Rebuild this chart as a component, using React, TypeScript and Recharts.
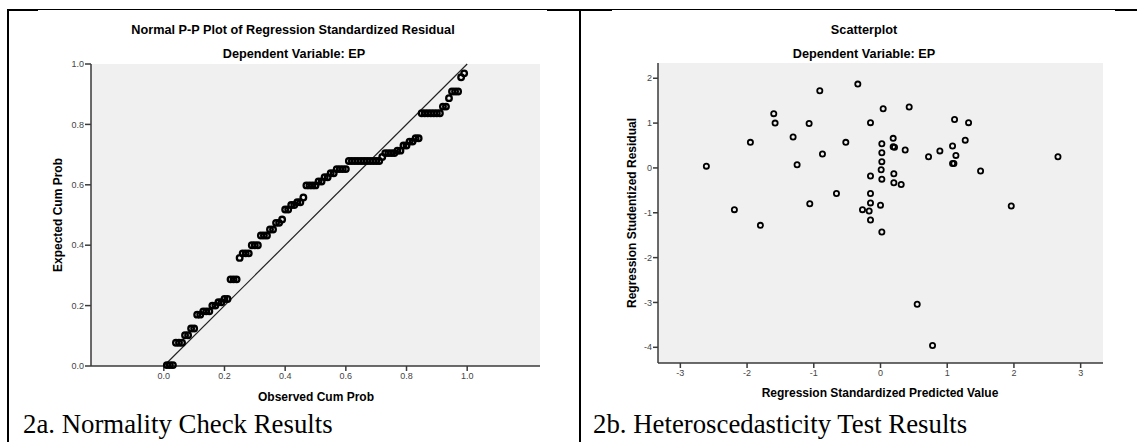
import React from 'react';
import { ScatterChart, Scatter, XAxis, YAxis, CartesianGrid, ReferenceLine } from 'recharts';

// P-P plot: observed cumulative probability of each case, and its expected value
const ppObserved = [
  0.01, 0.02, 0.03, 0.04, 0.05, 0.06, 0.07, 0.08, 0.09, 0.1,
  0.11, 0.12, 0.13, 0.14, 0.15, 0.16, 0.17, 0.18, 0.19, 0.2,
  0.21, 0.22, 0.23, 0.24, 0.25, 0.26, 0.27, 0.28, 0.29, 0.3,
  0.31, 0.32, 0.33, 0.34, 0.35, 0.36, 0.37, 0.38, 0.39, 0.4,
  0.41, 0.42, 0.43, 0.44, 0.45, 0.46, 0.47, 0.48, 0.49, 0.5,
  0.51, 0.52, 0.53, 0.54, 0.55, 0.56, 0.57, 0.58, 0.59, 0.6,
  0.61, 0.62, 0.63, 0.64, 0.65, 0.66, 0.67, 0.68, 0.69, 0.7,
  0.71, 0.72, 0.73, 0.74, 0.75, 0.76, 0.77, 0.78, 0.79, 0.8,
  0.81, 0.82, 0.83, 0.84, 0.85, 0.86, 0.87, 0.88, 0.89, 0.9,
  0.91, 0.92, 0.93, 0.94, 0.95, 0.96, 0.97, 0.98, 0.99,
];
const ppExpected = [
  0.003, 0.003, 0.003, 0.077, 0.077, 0.077, 0.102, 0.102, 0.124, 0.124,
  0.17, 0.17, 0.181, 0.181, 0.181, 0.2, 0.2, 0.211, 0.211, 0.222,
  0.222, 0.287, 0.287, 0.287, 0.358, 0.373, 0.373, 0.373, 0.4, 0.4,
  0.4, 0.432, 0.432, 0.432, 0.452, 0.452, 0.474, 0.474, 0.485, 0.518,
  0.518, 0.533, 0.533, 0.542, 0.542, 0.558, 0.598, 0.598, 0.598, 0.598,
  0.611, 0.611, 0.625, 0.625, 0.638, 0.638, 0.652, 0.652, 0.652, 0.652,
  0.679, 0.679, 0.679, 0.679, 0.679, 0.679, 0.679, 0.679, 0.679, 0.679,
  0.679, 0.692, 0.705, 0.705, 0.705, 0.705, 0.713, 0.713, 0.73, 0.73,
  0.743, 0.743, 0.754, 0.754, 0.837, 0.837, 0.837, 0.837, 0.837, 0.837,
  0.837, 0.859, 0.859, 0.887, 0.909, 0.909, 0.909, 0.956, 0.969,
];
const ppTicks = [0, 0.2, 0.4, 0.6, 0.8, 1];

// scatterplot: standardized predicted value vs studentized residual
const predictedValue = [
  -2.61, -2.19, -1.95, -1.8, -1.6, -1.58, -1.31, -1.25, -1.07, -1.06,
  -0.91, -0.87, -0.66, -0.52, -0.34, -0.27, -0.17, -0.15, -0.15, -0.15,
  -0.15, -0.15, 0.0, 0.01, 0.02, 0.02, 0.02, 0.02, 0.02, 0.04,
  0.19, 0.19, 0.21, 0.2, 0.2, 0.31, 0.37, 0.43, 0.55, 0.72,
  0.78, 0.89, 1.08, 1.08, 1.1, 1.11, 1.13, 1.27, 1.32, 1.5,
  1.96, 2.66,
];
const studentizedResidual = [
  0.04, -0.93, 0.57, -1.28, 1.21, 1.0, 0.69, 0.07, 0.99, -0.8,
  1.72, 0.31, -0.57, 0.57, 1.87, -0.93, -0.96, 1.01, -0.18, -0.57,
  -0.78, -1.16, -0.83, -0.04, 0.14, 0.34, 0.54, -0.25, -1.43, 1.32,
  0.66, 0.47, 0.46, -0.13, -0.33, -0.37, 0.4, 1.36, -3.04, 0.25,
  -3.96, 0.38, 0.49, 0.1, 0.1, 1.08, 0.28, 0.62, 1.01, -0.07,
  -0.85, 0.25,
];
const xTicks = [-3, -2, -1, 0, 1, 2, 3];
const yTicks = [-4, -3, -2, -1, 0, 1, 2];

const ppData = ppObserved.map((x, i) => ({ x, y: ppExpected[i] }));
const scatterData = predictedValue.map((x, i) => ({ x, y: studentizedResidual[i] }));

const sans = '"Liberation Sans", Arial, sans-serif';
const tickStyle = { fontSize: 9, fill: '#444', fontFamily: sans };
const axisDark = { stroke: '#3a3a3a', strokeWidth: 1.5 };
const frameGrey = { stroke: '#8a8a8a', strokeWidth: 1.5 };

const ring = (r: number, w: number) => (props: any) => (
  <circle cx={props.cx} cy={props.cy} r={r} fill="none" stroke="#000" strokeWidth={w} />
);

function Label({ x, y, size, bold = true, serif = false, rotate = false, left = false, children }: any) {
  const style: React.CSSProperties = {
    position: 'absolute',
    whiteSpace: 'nowrap',
    lineHeight: 1,
    fontSize: size,
    fontWeight: bold ? 'bold' : 'normal',
    fontFamily: serif ? '"Liberation Serif", "Times New Roman", serif' : sans,
    color: '#000',
    left: x,
    top: y,
    transform: rotate ? 'translate(-50%, -50%) rotate(-90deg)' : left ? 'none' : 'translateX(-50%)',
  };
  return <div style={style}>{children}</div>;
}

function Line({ x, y, w, h }: any) {
  return <div style={{ position: 'absolute', left: x, top: y, width: w, height: h, background: '#000' }} />;
}

function PPPlot() {
  return (
    <ScatterChart width={570} height={420} margin={{ top: 64, right: 30, bottom: 34, left: 61 }}>
      <CartesianGrid fill="#f0f0f0" horizontal={false} vertical={false} />
      <XAxis xAxisId="top" orientation="top" height={0} tick={false} tickLine={false} axisLine={frameGrey} />
      <YAxis yAxisId="right" orientation="right" width={0} tick={false} tickLine={false} axisLine={frameGrey} />
      <XAxis
        dataKey="x"
        type="number"
        domain={[-0.24, 1.24]}
        ticks={ppTicks}
        interval={0}
        allowDataOverflow
        height={20}
        tickSize={5}
        tickMargin={2}
        tick={tickStyle}
        tickFormatter={(v: number) => v.toFixed(1)}
        axisLine={axisDark}
        tickLine={axisDark}
      />
      <YAxis
        dataKey="y"
        type="number"
        domain={[0, 1]}
        ticks={ppTicks}
        interval={0}
        width={30}
        tickSize={6}
        tickMargin={1}
        tick={tickStyle}
        tickFormatter={(v: number) => v.toFixed(1)}
        axisLine={axisDark}
        tickLine={axisDark}
      />
      <ReferenceLine segment={[{ x: 0, y: 0 }, { x: 1, y: 1 }]} stroke="#222" strokeWidth={1.2} />
      <Scatter data={ppData} shape={ring(2.8, 2.3)} isAnimationActive={false} />
    </ScatterChart>
  );
}

function ResidualPlot() {
  return (
    <ScatterChart width={567} height={420} margin={{ top: 63, right: 34, bottom: 37, left: 58 }}>
      <CartesianGrid fill="#f0f0f0" horizontal={false} vertical={false} />
      <XAxis xAxisId="top" orientation="top" height={0} tick={false} tickLine={false} axisLine={frameGrey} />
      <YAxis yAxisId="right" orientation="right" width={0} tick={false} tickLine={false} axisLine={frameGrey} />
      <XAxis
        dataKey="x"
        type="number"
        domain={[-3.335, 3.335]}
        ticks={xTicks}
        interval={0}
        allowDataOverflow
        height={20}
        tickSize={5}
        tickMargin={2}
        tick={tickStyle}
        axisLine={axisDark}
        tickLine={axisDark}
      />
      <YAxis
        dataKey="y"
        type="number"
        domain={[-4.35, 2.34]}
        ticks={yTicks}
        interval={0}
        allowDataOverflow
        width={30}
        tickSize={5}
        tickMargin={1}
        tick={tickStyle}
        axisLine={axisDark}
        tickLine={axisDark}
      />
      <Scatter data={scatterData} shape={ring(2.6, 1.8)} isAnimationActive={false} />
    </ScatterChart>
  );
}

export default function App() {
  return (
    <div style={{ position: 'absolute', left: 0, top: 0, width: 1137, height: 442, background: '#fff', overflow: 'hidden' }}>
      <div style={{ position: 'absolute', left: 0, top: 0 }}>
        <PPPlot />
      </div>
      <div style={{ position: 'absolute', left: 570, top: 0 }}>
        <ResidualPlot />
      </div>

      <Label x={293} y={23.5} size={12.7}>Normal P-P Plot of Regression Standardized Residual</Label>
      <Label x={294} y={47.5} size={12.7}>Dependent Variable: EP</Label>
      <Label x={316} y={391} size={12}>Observed Cum Prob</Label>
      <Label x={58} y={215} size={12} rotate>Expected Cum Prob</Label>

      <Label x={864} y={23.5} size={12.7}>Scatterplot</Label>
      <Label x={864} y={47.5} size={12.7}>Dependent Variable: EP</Label>
      <Label x={880} y={387} size={12}>Regression Standardized Predicted Value</Label>
      <Label x={632} y={213} size={12} rotate>Regression Studentized Residual</Label>

      <Label x={23} y={411} size={26.8} bold={false} serif left>2a. Normality Check Results</Label>
      <Label x={593} y={411} size={26.8} bold={false} serif left>2b. Heteroscedasticity Test Results</Label>

      <Line x={8} y={9} w={1129} h={1} />
      <Line x={8} y={9} w={30} h={2} />
      <Line x={547} y={9} w={65} h={2} />
      <Line x={1115} y={9} w={22} h={2} />
      <Line x={7} y={9} w={2} h={433} />
      <Line x={579} y={9} w={2} h={433} />
    </div>
  );
}
